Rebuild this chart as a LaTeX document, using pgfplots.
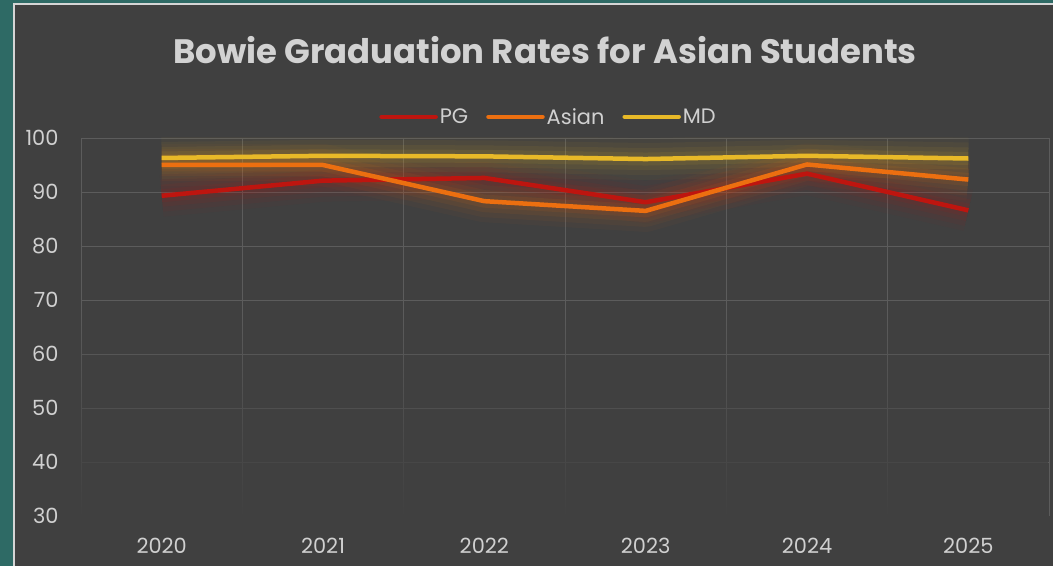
\documentclass[border=0pt]{standalone}
\usepackage{pgfplots}
\pgfplotsset{compat=1.18}
\usepackage{pgfplotstable}
\usetikzlibrary{fadings}
\usepackage{fontspec}
\setmainfont{Poppins}
\definecolor{bgteal}{HTML}{2E6A65}
\definecolor{panel}{HTML}{404040}
\definecolor{gridc}{HTML}{5C5C5C}
\definecolor{labc}{HTML}{D0D0D0}
\definecolor{pgc}{HTML}{BE150F}
\definecolor{asc}{HTML}{EC6F10}
\definecolor{mdc}{HTML}{E8B928}
\pgfplotstableread{
x pg asian md
0 89.3 95.0 96.3
1 92.1 95.0 96.7
2 92.6 88.3 96.6
3 88.1 86.5 96.1
4 93.4 95.1 96.7
5 86.6 92.3 96.2
}\data
\pgfplotsset{
  glowA/.style={forget plot, line width=42bp, opacity=0.04},
  glowB/.style={forget plot, line width=32bp, opacity=0.05},
  glowC/.style={forget plot, line width=22bp, opacity=0.07},
  glowD/.style={forget plot, line width=13bp, opacity=0.09},
}
\begin{document}
\begin{tikzpicture}[x=1bp,y=1bp]
\path[use as bounding box] (0,0) rectangle (1053,566);
\fill[bgteal] (0,0) rectangle (1053,566);
\fill[panel] (14,-5) rectangle (1060,562);
\draw[labc!90!white, line width=1.3bp] (14,-5) -- (14,562) -- (1060,562);
\node[text=labc!95!white, font=\fontsize{34}{40}\selectfont\bfseries] at (545,516) {Bowie Graduation Rates for Asian Students};
\begin{axis}[
  at={(81bp,50bp)}, anchor=south west, scale only axis,
  width=968bp, height=378bp,
  xmin=-0.5, xmax=5.5, ymin=30, ymax=100,
  ytick={40,50,...,100},
  extra y ticks={30}, extra y tick style={grid=none},
  xtick={0,...,5}, xticklabels={2020,2021,2022,2023,2024,2025},
  minor xtick={-0.5,0.5,...,5.5},
  xminorgrids, ymajorgrids,
  grid style={gridc, line width=0.9bp},
  minor grid style={gridc, line width=0.9bp},
  axis line style={draw=none},
  major tick length=0, minor tick length=0,
  tick label style={font=\fontsize{21}{24}\selectfont, text=labc},
  /pgf/number format/assume math mode=true,
  yticklabel style={xshift=-19bp},
  xticklabel style={yshift=-19bp},
  legend columns=3,
  legend style={at={(0.483,1.056)}, anchor=center, draw=none, fill=none,
    text=labc, font=\fontsize{21}{24}\selectfont,
    /tikz/every even column/.append style={column sep=16bp}},
  legend image code/.code={\draw[#1, line width=4.5bp, line cap=round] (0bp,0bp) -- (54bp,0bp);},
  line join=round,
]
\fill[panel, path fading=north] (axis cs:-0.5,29) rectangle (axis cs:5.5,68);
\addplot[glowA, mdc] table[x=x,y=md]{\data};
\addplot[glowA, asc] table[x=x,y=asian]{\data};
\addplot[glowA, pgc] table[x=x,y=pg]{\data};
\addplot[glowB, mdc] table[x=x,y=md]{\data};
\addplot[glowB, asc] table[x=x,y=asian]{\data};
\addplot[glowB, pgc] table[x=x,y=pg]{\data};
\addplot[glowC, mdc] table[x=x,y=md]{\data};
\addplot[glowC, asc] table[x=x,y=asian]{\data};
\addplot[glowC, pgc] table[x=x,y=pg]{\data};
\addplot[glowD, mdc] table[x=x,y=md]{\data};
\addplot[glowD, asc] table[x=x,y=asian]{\data};
\addplot[glowD, pgc] table[x=x,y=pg]{\data};
\addplot[pgc, line width=4.5bp] table[x=x,y=pg]{\data};
\addlegendentry{PG}
\addplot[asc, line width=4.5bp] table[x=x,y=asian]{\data};
\addlegendentry{Asian}
\addplot[mdc, line width=4.5bp] table[x=x,y=md]{\data};
\addlegendentry{MD}
\end{axis}
\end{tikzpicture}
\end{document}
